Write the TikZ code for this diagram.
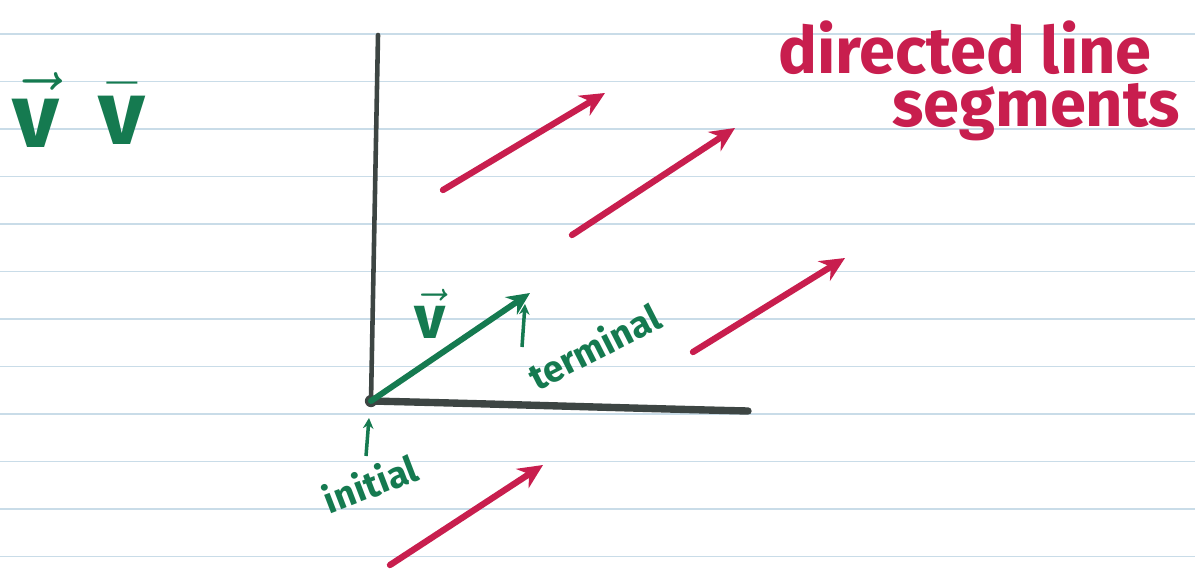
\documentclass[tikz,border=0pt]{standalone}
\usepackage{fontspec}
\setmainfont{Fira Sans}
\usepackage{graphicx}
\usepackage{tikz}
\usetikzlibrary{arrows.meta}
\definecolor{paperLine}{HTML}{C9DCE8}
\definecolor{axisGray}{HTML}{3D4543}
\definecolor{inkGreen}{HTML}{157A50}
\definecolor{inkRed}{HTML}{C81E4E}

\begin{document}
\begin{tikzpicture}[x=0.02cm,y=-0.02cm]

            \tikzset{
                ruling/.style={
                    paperLine,
                    line width=0.6pt
                },
                axisline/.style={
                    axisGray,
                    line cap=round
                },
                redseg/.style={
                    inkRed,
                    line width=3.6pt,
                    line cap=round,
                    -{Stealth[length=14pt,width=13pt]}
                },
                greenseg/.style={
                    inkGreen,
                    line width=3.4pt,
                    line cap=round,
                    -{Stealth[length=13pt,width=12pt]}
                },
                pointer/.style={
                    inkGreen,
                    line width=2pt,
                    -{Stealth[length=6pt,width=6pt]}
                },
                greenword/.style={
                    inkGreen,
                    font=\bfseries\fontsize{21}{23}\selectfont
                },
                redword/.style={
                    inkRed,
                    font=\bfseries\fontsize{37}{40}\selectfont
                }
            }

            \newcommand{\RedSeg}[5]{%
                \coordinate (#1a) at (#2,#3);
                \coordinate (#1b) at (#4,#5);
                \draw[redseg] (#1a) -- (#1b);
            }

            \useasboundingbox (0,0) rectangle (1195,571);
            \fill[white] (0,0) rectangle (1195,571);

            % ruled paper
            \foreach \yy in {34,81.5,...,560} {
                \draw[ruling] (0,\yy) -- (1195,\yy);
            }

            % notation
            \node[inkGreen, font=\LARGE] (vecArrow) at (36,110) {\scalebox{3}{$\vec{\mathbf{v}}$}};
            \node[inkGreen, font=\LARGE] (vecBar) at (122,114) {\scalebox{3}{$\bar{\mathbf{v}}$}};

            % axes
            \coordinate (origin) at (371,401);
            \coordinate (yTop) at (378,35);
            \coordinate (xEnd) at (748,411);
            \draw[axisline, line width=2.6pt] (origin) -- (yTop);
            \draw[axisline, line width=4.2pt] (origin) .. controls (500,404) and (620,408) .. (xEnd);
            \fill[axisGray] (origin) circle (3.5pt);

            % the vector v
            \coordinate (tip) at (530,293);
            \draw[greenseg] (origin) -- (tip);
            \node[inkGreen, font=\LARGE] (vLabel) at (430,314) {\scalebox{2}{$\vec{\mathbf{v}}$}};

            \node[greenword, rotate=27] (terminal) at (594,346) {terminal};
            \coordinate (termFoot) at (522,347);
            \coordinate (termHead) at (525,304);
            \draw[pointer] (termFoot) -- (termHead);

            \node[greenword, rotate=21] (initial) at (370,483) {initial};
            \coordinate (initFoot) at (366,456);
            \coordinate (initHead) at (369,418);
            \draw[pointer] (initFoot) -- (initHead);

            % directed line segments
            \RedSeg{segA}{443}{190}{605}{93}
            \RedSeg{segB}{572}{235}{735}{128}
            \RedSeg{segC}{693}{352}{845}{258}
            \RedSeg{segD}{390}{565}{543}{465}

            \node[redword] (titleA) at (965,48) {directed line};
            \node[redword] (titleB) at (1036,112) {segments};

\end{tikzpicture}
\end{document}
